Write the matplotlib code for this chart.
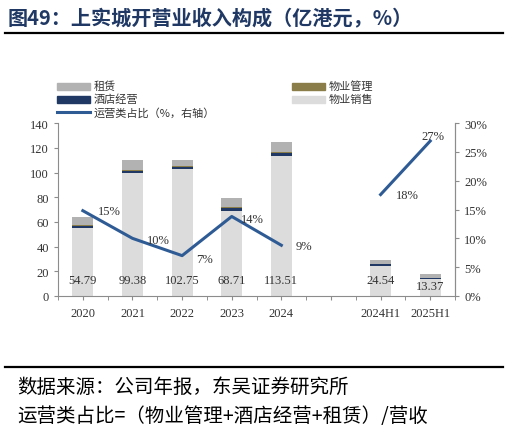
import numpy as np
import matplotlib.pyplot as plt
from matplotlib.patches import Rectangle
from matplotlib.lines import Line2D

plt.rcParams['font.family'] = ['Liberation Serif', 'Noto Sans CJK SC', 'DejaVu Sans']

# data (亿港元), empty slot separates annual and half-year figures
categories = ['2020', '2021', '2022', '2023', '2024', '', '2024H1', '2025H1']
sales = [54.79, 99.38, 102.75, 68.71, 113.51, np.nan, 24.54, 13.37]
hotel = [2.0, 2.2, 1.8, 2.5, 2.2, np.nan, 1.2, 1.0]
mgmt = [0.8, 0.8, 0.8, 0.8, 0.8, np.nan, 0.4, 0.4]
rental = [6.1, 7.9, 4.7, 7.5, 8.1, np.nan, 3.0, 3.0]
ratio = [14.8, 10.0, 7.0, 13.8, 8.8, np.nan, 17.6, 26.9]
ratio_labels = ['15%', '10%', '7%', '14%', '9%', '', '18%', '27%']

c_sales = '#dcdcdc'
c_rental = '#b2b2b2'
c_hotel = '#1f3864'
c_mgmt = '#8b7d4a'
c_line = '#2f5b95'
title_color = '#1f3864'

fig = plt.figure(figsize=(5.09, 4.31), dpi=100)
ax = fig.add_axes([0.114, 0.311, 0.78, 0.401])
ax2 = ax.twinx()

x = np.arange(len(categories))
w = 0.42
s = np.array(sales)
h = np.array(hotel)
m = np.array(mgmt)
r = np.array(rental)
ax.bar(x, s, w, color=c_sales, zorder=2)
ax.bar(x, h, w, bottom=s, color=c_hotel, zorder=2)
ax.bar(x, m, w, bottom=s + h, color=c_mgmt, zorder=2)
ax.bar(x, r, w, bottom=s + h + m, color=c_rental, zorder=2)

for i, v in enumerate(sales):
    if np.isnan(v):
        continue
    yy = 13.2 if v > 20 else 8.3
    ax.text(x[i], yy, f'{v:.2f}', ha='center', va='center', fontsize=9,
            color='#333333', zorder=5)

ax2.plot(x, ratio, color=c_line, lw=2.2, zorder=4)
offs = [(0.53, 0.0), (0.53, -0.3), (0.45, -0.5), (0.42, -0.4), (0.46, -0.1), (0, 0), (0.54, 0.0), (0.06, 0.9)]
for i, lab in enumerate(ratio_labels):
    if not lab:
        continue
    ax2.text(x[i] + offs[i][0], ratio[i] + offs[i][1], lab, ha='center', va='center',
             fontsize=9, color='#333333', zorder=5)

ax.set_xlim(-0.5, len(categories) - 0.5)
ax.set_ylim(0, 140)
ax.set_yticks(range(0, 141, 20))
ax2.set_ylim(0, 30)
ax2.set_yticks(range(0, 31, 5))
ax2.set_yticklabels([f'{t}%' for t in range(0, 31, 5)])

ax.set_xticks(x)
ax.set_xticklabels(categories)
ax.set_xticks(np.arange(-0.5, len(categories), 1), minor=True)
ax.tick_params(axis='x', which='major', length=0, pad=5)
ax.tick_params(axis='x', which='minor', length=3, color='#7f7f7f')

for a in (ax, ax2):
    a.spines['top'].set_visible(False)
    for sp in ('left', 'right', 'bottom'):
        a.spines[sp].set_color('#8c8c8c')
    a.tick_params(labelsize=9, labelcolor='#333333', color='#8c8c8c', length=3)
ax2.spines['left'].set_visible(False)
ax2.spines['bottom'].set_visible(False)

# legend drawn by hand to follow the reference layout
leg_items = [
    ('租赁', c_rental, 'patch', 57, 87),
    ('酒店经营', c_hotel, 'patch', 57, 100),
    ('运营类占比（%，右轴）', c_line, 'line', 57, 113),
    ('物业管理', c_mgmt, 'patch', 292, 87),
    ('物业销售', c_sales, 'patch', 292, 100),
]
W, H = 509, 431
for lab, col, kind, px, py in leg_items:
    if kind == 'patch':
        fig.patches.append(Rectangle((px / W, 1 - (py + 3.5) / H), 33 / W, 7 / H,
                                     transform=fig.transFigure, color=col))
    else:
        fig.lines.append(Line2D([px / W, (px + 33) / W], [1 - py / H, 1 - py / H],
                                transform=fig.transFigure, color=col, lw=2.2))
    fig.text((px + 37) / W, 1 - py / H, lab, fontsize=8, va='center', ha='left',
             color='#333333', family=['Noto Sans CJK SC'])

fig.text(8 / W, 1 - 18 / H, '图49：上实城开营业收入构成（亿港元，%）', fontsize=14.5,
         fontweight='bold', color=title_color, va='center', ha='left',
         family=['Noto Sans CJK SC'])
fig.lines.append(Line2D([5 / W, 503 / W], [1 - 34 / H, 1 - 34 / H],
                        transform=fig.transFigure, color='black', lw=1.6))
fig.lines.append(Line2D([5 / W, 503 / W], [1 - 368 / H, 1 - 368 / H],
                        transform=fig.transFigure, color='black', lw=1.6))
fig.text(17 / W, 1 - 387 / H, '数据来源：公司年报，东吴证券研究所', fontsize=14,
         color='black', va='center', ha='left', family=['Noto Sans CJK SC'])
fig.text(17 / W, 1 - 417 / H, '运营类占比=（物业管理+酒店经营+租赁）/营收', fontsize=14,
         color='black', va='center', ha='left', family=['Noto Sans CJK SC'])

fig.savefig('out.png', dpi=100)
